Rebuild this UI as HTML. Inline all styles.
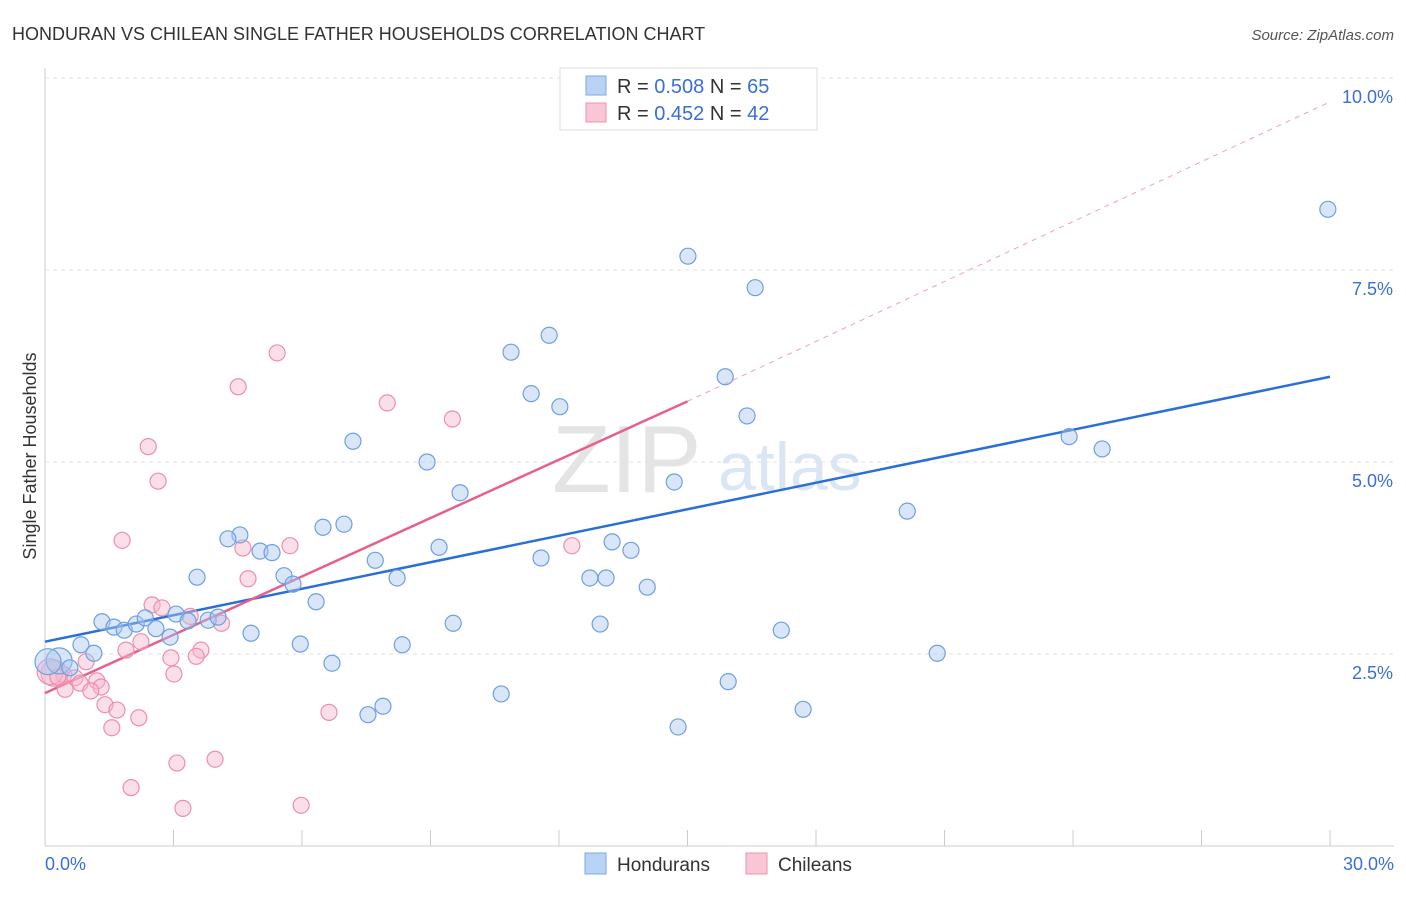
<!DOCTYPE html>
<html><head><meta charset="utf-8"><style>
body{margin:0;background:#fff;font-family:"Liberation Sans",sans-serif;}
svg text{font-family:"Liberation Sans",sans-serif;}
</style></head><body>
<svg id="chart" width="1406" height="892">
<text x="12" y="40" font-size="18" fill="#333">HONDURAN VS CHILEAN SINGLE FATHER HOUSEHOLDS CORRELATION CHART</text>
<text x="1394" y="40" font-size="15" fill="#555" text-anchor="end" font-style="italic">Source: ZipAtlas.com</text>
<text x="36" y="456" font-size="18" fill="#333" transform="rotate(-90 36 456)" text-anchor="middle">Single Father Households</text>
<g><text x="552" y="492" font-size="96" fill="#e4e4e4" font-family="Liberation Serif,serif">ZIP</text><text x="718" y="490" font-size="68" fill="#dbe6f5">atlas</text></g>
<g id="grid"></g><g id="axes"></g><g id="trends"></g><g id="pts"></g>
<g>
<rect x="560" y="68" width="257" height="62" fill="#fff" stroke="#ddd"/>
<rect x="586" y="76" width="20" height="19" fill="#b9d3f4" stroke="#7aa8e6"/>
<text x="617" y="93" font-size="20" fill="#333">R = <tspan fill="#3a6fd8">0.508</tspan>   N = <tspan fill="#3a6fd8">65</tspan></text>
<rect x="586" y="103" width="20" height="19" fill="#f9c6d5" stroke="#ef93ae"/>
<text x="617" y="120" font-size="20" fill="#333">R = <tspan fill="#3a6fd8">0.452</tspan>   N = <tspan fill="#3a6fd8">42</tspan></text>
</g>
<g>
<rect x="585" y="853" width="21" height="21" fill="#b9d3f4" stroke="#7aa8e6"/>
<text x="617" y="871" font-size="19" fill="#333">Hondurans</text>
<rect x="746" y="853" width="21" height="21" fill="#f9c6d5" stroke="#ef93ae"/>
<text x="778" y="871" font-size="19" fill="#333">Chileans</text>
</g>
</svg>
<script>
const yTicks=[2.5,5.0,7.5,10.0];
const yTickLabels=["2.5%","5.0%","7.5%","10.0%"];
const xTickLabels=["0.0%","30.0%"];
const blueX=[29.95,15.01,16.58,11.77,10.88,15.88,11.35,12.02,16.39,7.19,23.91,24.68,8.92,9.69,14.69,20.13,6.49,6.98,4.55,4.27,5.02,5.30,9.20,13.24,13.68,7.71,11.58,3.55,5.58,5.79,8.22,12.72,13.10,14.06,6.33,1.33,1.61,1.85,2.13,2.34,2.59,2.92,3.06,3.34,3.81,4.04,4.81,9.53,12.96,17.19,0.84,5.96,8.34,1.14,20.83,0.33,0.07,0.58,6.70,10.65,15.95,7.89,7.54,17.70,14.78];
const blueY=[8.29,7.68,7.27,6.65,6.43,6.11,5.89,5.72,5.60,5.27,5.33,5.17,5.00,4.60,4.74,4.36,4.15,4.19,4.05,4.00,3.84,3.82,3.89,3.96,3.85,3.72,3.75,3.50,3.52,3.41,3.49,3.49,3.49,3.37,3.18,2.92,2.85,2.81,2.89,2.97,2.83,2.72,3.02,2.93,2.94,2.98,2.77,2.90,2.89,2.81,2.62,2.63,2.62,2.51,2.51,2.41,2.40,2.32,2.38,1.98,2.14,1.82,1.71,1.78,1.55];
const pinkX=[5.42,4.51,7.99,9.51,2.41,2.64,1.80,4.62,5.72,12.30,4.74,2.50,2.73,3.39,4.12,2.24,1.89,3.64,2.94,3.53,0.96,0.21,0.44,0.70,3.01,1.21,0.82,1.31,1.07,0.47,1.40,1.68,2.19,6.63,1.56,3.08,3.97,2.01,3.22,5.98,0.12,0.30];
const pinkY=[6.42,5.98,5.77,5.56,5.20,4.75,3.98,3.88,3.91,3.91,3.48,3.14,3.10,2.99,2.90,2.66,2.55,2.55,2.45,2.47,2.40,2.25,2.23,2.19,2.24,2.15,2.12,2.07,2.02,2.04,1.84,1.77,1.67,1.74,1.54,1.08,1.13,0.76,0.49,0.53,2.27,2.20];
const blueTrend=[[0,2.66],[30,6.11]];
const pinkTrend=[[0,1.99],[15,5.79]];
const pinkDash=[[15,5.79],[30,9.69]];
const X=v=>45+v/30*1285, Y=v=>846-v*76.8;
const NS="http://www.w3.org/2000/svg";
function mk(p,t,a){const e=document.createElementNS(NS,t);for(const k in a)e.setAttribute(k,a[k]);p.appendChild(e);return e;}
const grid=document.getElementById('grid'),axes=document.getElementById('axes'),tr=document.getElementById('trends'),pts=document.getElementById('pts');
yTicks.forEach((t,i)=>{const l=mk(grid,'line',{x1:45,x2:1394,y1:Y(t),y2:Y(t),stroke:'#e3e3e3','stroke-dasharray':'4,4'});


const tx=mk(axes,'text',{x:1393,y:Y(t)+25,'font-size':18,fill:'#3a6fd8','text-anchor':'end'});tx.textContent=yTickLabels[i];

});
const ax=mk(axes,'line',{x1:45,x2:45,y1:68,y2:846,stroke:'#ccc'});


const bx=mk(axes,'line',{x1:45,x2:1394,y1:846,y2:846,stroke:'#ccc'});


for(let i=0;i<=10;i++){const t=mk(axes,'line',{x1:X(i*3),x2:X(i*3),y1:830,y2:846,stroke:'#ccc'});

}
[[0,'start',45],[1,'end',1394]].forEach(([i,a,x])=>{const t=mk(axes,'text',{x:x,y:870,'font-size':18,fill:'#3a6fd8','text-anchor':a});t.textContent=xTickLabels[i];

});
function line(d,c,dash,name){const l=mk(tr,'line',{x1:X(d[0][0]),y1:Y(d[0][1]),x2:X(d[1][0]),y2:Y(d[1][1]),stroke:c,'stroke-width':dash?1:2.5});if(dash)l.setAttribute('stroke-dasharray','5,5');

}
line(blueTrend,'#2a6fd6',false,'honduran-trendline');
line(pinkTrend,'#e8608a',false,'chilean-trendline');
line(pinkDash,'#f0a0b8',true,'chilean-trendline-extension');
function dots(xs,ys,f,s,name){xs.forEach((x,i)=>{const big=(x<0.4&&ys[i]>2.2&&ys[i]<2.45);const c=mk(pts,'circle',{cx:X(x),cy:Y(ys[i]),r:big?13:8,fill:f,'fill-opacity':0.45,stroke:s,'stroke-width':1.2});

});}
dots(pinkX,pinkY,'#f7b9cc','#ec8fac','chilean-point');
dots(blueX,blueY,'#a9c8f0','#6f9fe0','honduran-point');
</script>
</body></html>
